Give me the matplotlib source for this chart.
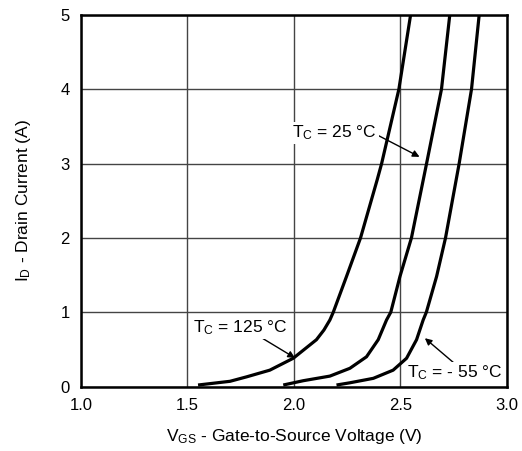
import matplotlib as mpl
mpl.use('agg')
from matplotlib import pyplot as plt

plt.rcParams['font.family'] = ['Liberation Sans', 'DejaVu Sans']
plt.rcParams['mathtext.default'] = 'regular'

# transfer characteristics
vgs_125 = [1.55, 1.70, 1.778, 1.887, 1.997, 2.106, 2.141, 2.169, 2.185, 2.247, 2.313, 2.391, 2.412, 2.493, 2.548]
id_125 = [0.02, 0.07, 0.13, 0.22, 0.38, 0.63, 0.76, 0.895, 1.0, 1.48, 2.0, 2.78, 3.0, 4.0, 5.0]

vgs_25 = [1.95, 2.044, 2.169, 2.263, 2.341, 2.396, 2.435, 2.455, 2.498, 2.552, 2.623, 2.693, 2.732]
id_25 = [0.02, 0.078, 0.14, 0.245, 0.40, 0.63, 0.895, 1.0, 1.48, 2.0, 3.0, 4.0, 5.0]

vgs_m55 = [2.20, 2.263, 2.373, 2.466, 2.529, 2.576, 2.607, 2.622, 2.67, 2.712, 2.776, 2.834, 2.87]
id_m55 = [0.02, 0.05, 0.11, 0.22, 0.38, 0.63, 0.895, 1.0, 1.48, 2.0, 3.0, 4.0, 5.0]

x_ticks = [1.0, 1.5, 2.0, 2.5, 3.0]
y_ticks = [0, 1, 2, 3, 4, 5]


def main():
    fig = plt.figure(figsize=(5.22, 4.51), dpi=100)
    ax = fig.add_axes([0.155, 0.143, 0.816, 0.824])

    for v, i in [(vgs_125, id_125), (vgs_25, id_25), (vgs_m55, id_m55)]:
        ax.plot(v, i, color='black', linewidth=2.3, solid_capstyle='butt',
                solid_joinstyle='round', zorder=3)

    ax.set_xlim(1.0, 3.0)
    ax.set_ylim(0, 5)
    ax.set_xticks(x_ticks)
    ax.set_xticklabels(['{:.1f}'.format(t) for t in x_ticks])
    ax.set_yticks(y_ticks)
    ax.grid(True, color='#444444', linewidth=1.0)
    ax.set_axisbelow(True)
    ax.tick_params(length=0, labelsize=12, pad=8)
    for s in ax.spines.values():
        s.set_linewidth(1.8)

    ax.set_xlabel('V$_{GS}$ - Gate-to-Source Voltage (V)', fontsize=12.5, labelpad=10)
    ax.set_ylabel('I$_D$ - Drain Current (A)', fontsize=12.5, labelpad=20)

    arrow = dict(arrowstyle='-|>', color='black', lw=1.0, mutation_scale=10,
                 shrinkA=0, shrinkB=0)
    box = dict(facecolor='white', edgecolor='none', pad=1)
    ax.annotate('T$_C$ = 25 °C', xy=(2.59, 3.09), xytext=(2.192, 3.41),
                fontsize=12.5, ha='center', va='center', bbox=box,
                arrowprops=dict(arrow, relpos=(1.0, 0.4)), zorder=4)
    ax.annotate('T$_C$ = 125 °C', xy=(2.005, 0.385), xytext=(1.746, 0.79),
                fontsize=12.5, ha='center', va='center', bbox=box,
                arrowprops=dict(arrow, relpos=(0.72, 0.0)), zorder=4)
    ax.annotate('T$_C$ = - 55 °C', xy=(2.615, 0.65), xytext=(2.756, 0.18),
                fontsize=12.5, ha='center', va='center', bbox=box,
                arrowprops=dict(arrow, relpos=(0.5, 1.0)), zorder=4)

    fig.savefig('out.png', dpi=100)


if __name__ == '__main__':
    main()
